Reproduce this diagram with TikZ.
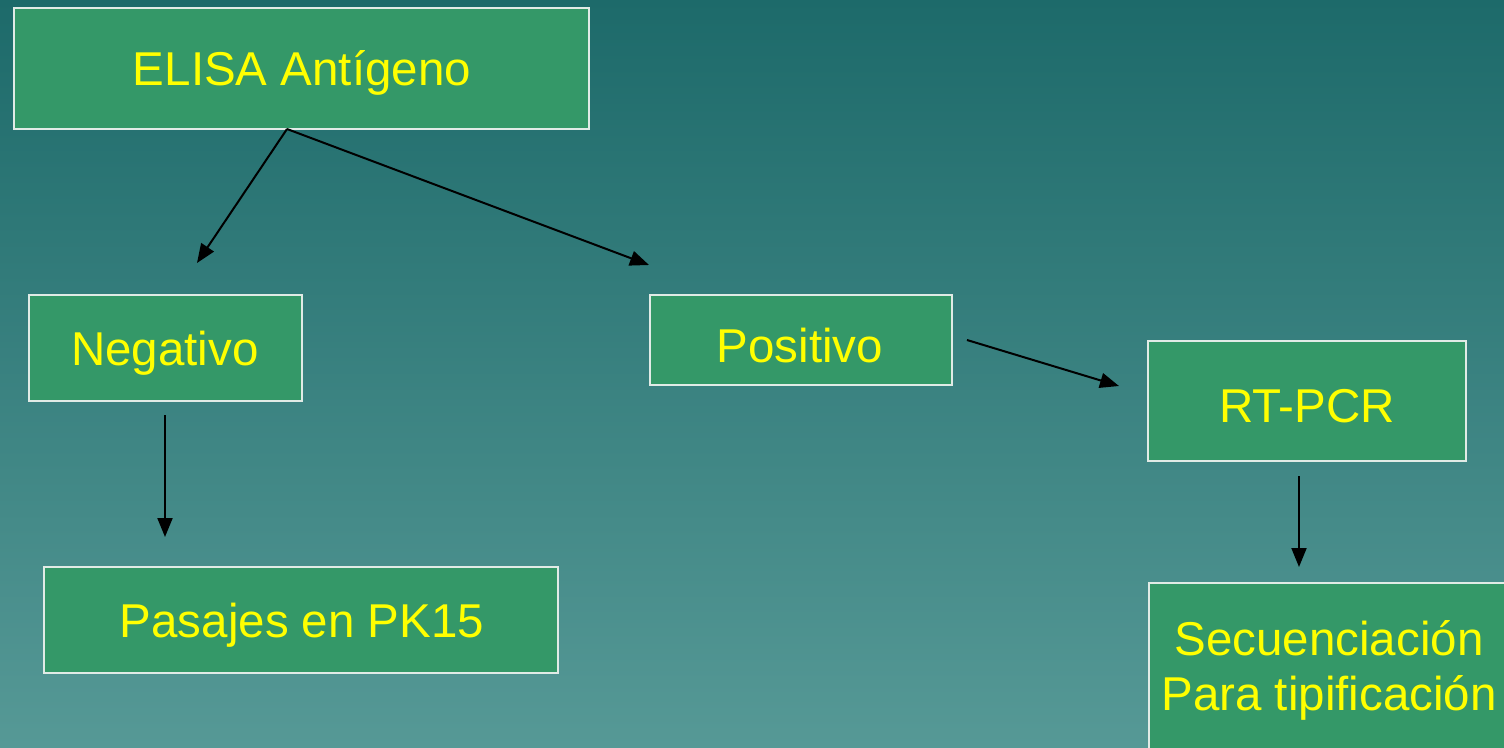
\documentclass[tikz,border=0pt]{standalone}
\usepackage{fontspec}
\setmainfont{Liberation Sans}
\usetikzlibrary{arrows.meta,calc}
\definecolor{bgtop}{RGB}{29,106,106}
\definecolor{bgbot}{RGB}{86,153,150}
\definecolor{boxfill}{RGB}{52,152,104}
\definecolor{boxline}{RGB}{225,235,230}
\definecolor{txt}{RGB}{255,255,0}
\tikzset{
  stepbox/.style={draw=boxline, line width=1.6pt, fill=boxfill, text=txt,
    font=\fontsize{47.5}{56}\selectfont, inner sep=0pt, align=center},
  label/.style={text=txt, font=\fontsize{47.5}{56}\selectfont, align=center},
  conn/.style={line width=2pt, -{Triangle[length=19pt,width=15pt]}}
}
\begin{document}
\begin{tikzpicture}[x=1pt,y=-1pt]
\shade[top color=bgtop, bottom color=bgbot] (0,0) rectangle (1504,747);
\useasboundingbox (0,0) rectangle (1504,747);
% boxes
\node[stepbox, minimum width=575pt, minimum height=121pt] (elisa) at (301.5,68.5) {};
\node[label] (elisaT) at (302,73) {ELISA Antígeno};
\node[stepbox, minimum width=273pt, minimum height=106pt] (neg) at (165.5,348) {};
\node[label] (negT) at (165,353) {Negativo};
\node[stepbox, minimum width=302pt, minimum height=90pt] (pos) at (801,340) {};
\node[label] (posT) at (800,346) {Positivo};
\node[stepbox, minimum width=318pt, minimum height=120pt] (rt) at (1307,401) {};
\node[label] (rtT) at (1307,406) {RT-PCR};
\node[stepbox, minimum width=514pt, minimum height=106pt] (pas) at (301,620) {};
\node[label] (pasT) at (302,625) {Pasajes en PK15};
\node[stepbox, minimum width=370pt, minimum height=180pt, anchor=north west] (sec) at (1148,582) {};
\node[label, font=\fontsize{47.5}{55}\selectfont] (secT) at (1329,670) {Secuenciación\\Para tipificación};
% connector ends
\coordinate (e1) at (287,129);
\coordinate (n1) at (197,263);
\coordinate (p1) at (649,265);
\coordinate (pe) at (967,340);
\coordinate (r1) at (1119,386);
\coordinate (ns) at (165,415);
\coordinate (pa) at (165,537);
\coordinate (rs) at (1299,476);
\coordinate (se) at (1299,567);
% connectors
\draw[conn] (e1) -- (n1);
\draw[conn] (e1) -- (p1);
\draw[conn] (pe) -- (r1);
\draw[conn] (ns) -- (pa);
\draw[conn] (rs) -- (se);
\end{tikzpicture}
\end{document}
